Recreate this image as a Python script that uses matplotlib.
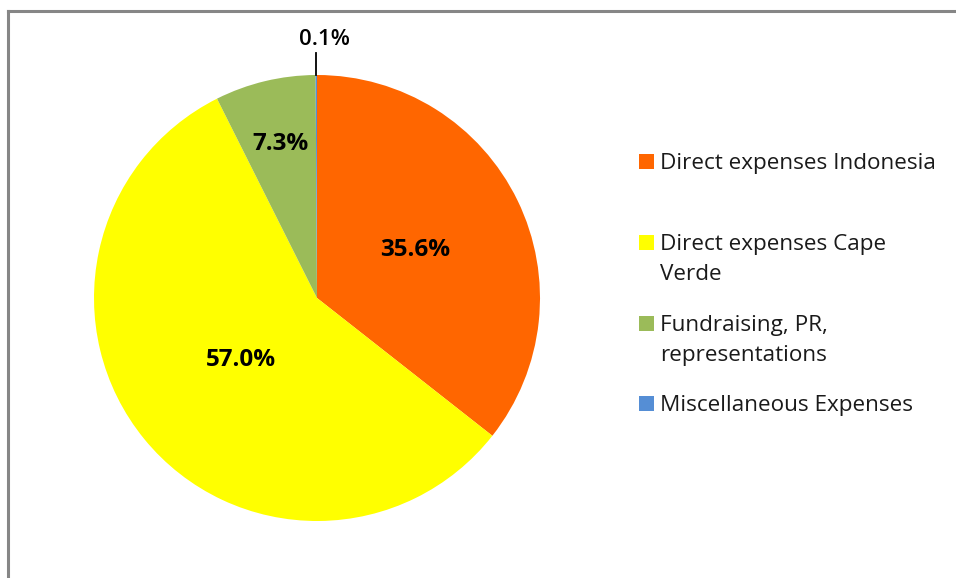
import numpy as np
import matplotlib.pyplot as plt
from matplotlib.patches import Rectangle
from matplotlib.lines import Line2D

plt.rcParams['font.family'] = ['Open Sans', 'DejaVu Sans']

# ---------- data ----------
categories = ['Direct expenses Indonesia', 'Direct expenses Cape\nVerde',
              'Fundraising, PR,\nrepresentations', 'Miscellaneous Expenses']
shares = [35.6, 57.0, 7.3, 0.1]
colors = ['#FF6600', '#FFFF00', '#9BBB59', '#558ED5']
label_dist = [0.49, 0.44, 0.71, None]   # None -> outside with leader line

W, H = 956, 578
fig = plt.figure(figsize=(W / 100, H / 100), dpi=100)

# pie axes: centre (317, 298) px, radius 223 px
cx, cy, r = 317, 298, 223
ax = fig.add_axes([(cx - r) / W, (H - cy - r) / H, 2 * r / W, 2 * r / H])
wedges, _ = ax.pie(shares, colors=colors, startangle=90, counterclock=False,
                   radius=1, wedgeprops=dict(linewidth=0))
ax.set_xlim(-1, 1)
ax.set_ylim(-1, 1)
ax.set_aspect('equal')
ax.axis('off')

for w, val, d in zip(wedges, shares, label_dist):
    ang = np.deg2rad((w.theta1 + w.theta2) / 2)
    txt = f'{val:.1f}%'
    if d is not None:
        ax.text(d * np.cos(ang), d * np.sin(ang), txt, ha='center', va='center',
                fontsize=17.5, fontweight='bold', color='black')
    else:
        x0, y0 = np.cos(ang), np.sin(ang)
        ax.plot([x0, x0], [y0, y0 + 0.1], color='black', lw=1.3, clip_on=False)
        ax.text(x0 + 0.035, y0 + 0.16, txt, ha='center', va='center',
                fontsize=16, fontweight='semibold', color='black')

# ---------- legend (drawn by hand, Excel-style spacing) ----------
leg_x, sq = 639, 15
entry_top = [161, 242, 323, 403]   # centre of first line of each entry (px)
for lab, col, yc in zip(categories, colors, entry_top):
    fig.patches.append(Rectangle(((leg_x) / W, (H - yc - sq / 2) / H), sq / W, sq / H,
                                 transform=fig.transFigure, facecolor=col,
                                 edgecolor='none'))
    fig.text((leg_x + 21) / W, (H - yc + 8) / H, lab, ha='left', va='top',
             fontsize=16.2, color='#1a1a1a', linespacing=1.55)

# ---------- outer frame (cropped at right/bottom) ----------
fig.add_artist(Line2D([8 / W, 1], [(H - 10.5) / H] * 2, color='#868686', lw=2.2,
                      transform=fig.transFigure))
fig.add_artist(Line2D([8 / W] * 2, [0, (H - 10.5) / H], color='#868686', lw=2.2,
                      transform=fig.transFigure))

fig.savefig('out.png', dpi=100, facecolor='white')
